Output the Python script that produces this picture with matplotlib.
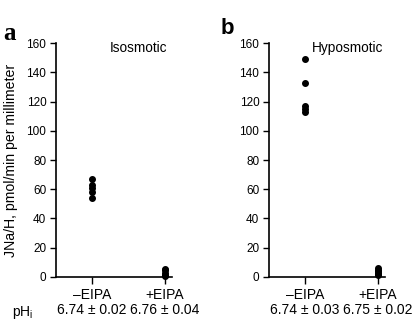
import matplotlib
matplotlib.use('Agg')
import matplotlib.pyplot as plt

plt.rcParams['font.family'] = ['Liberation Sans', 'DejaVu Sans']

# data
groups = ['\u2013EIPA', '+EIPA']
iso_minus = [67, 63, 61, 58, 54]
iso_plus = [5.5, 4.5, 3, 1.5, 0.5]
hypo_minus = [149, 133, 117, 115, 113]
hypo_plus = [6, 5, 4, 3, 2, 1]
iso_ph = ['6.74 \u00b1 0.02', '6.76 \u00b1 0.04']
hypo_ph = ['6.74 \u00b1 0.03', '6.75 \u00b1 0.02']
yticks = [0, 20, 40, 60, 80, 100, 120, 140, 160]

fig = plt.figure(figsize=(4.12, 3.32), dpi=100)
axa = fig.add_axes([0.136, 0.166, 0.282, 0.704])
axb = fig.add_axes([0.653, 0.166, 0.282, 0.704])

panels = [(axa, iso_minus, iso_plus, iso_ph, 'Isosmotic', 0.71),
          (axb, hypo_minus, hypo_plus, hypo_ph, 'Hyposmotic', 0.68)]

for ax, minus, plus, ph, title, tx in panels:
    ax.plot([0] * len(minus), minus, 'o', color='black', ms=4.0, clip_on=False)
    ax.plot([1] * len(plus), plus, 'o', color='black', ms=4.0, clip_on=False)
    ax.set_xlim(-0.49, 1.1)
    ax.set_ylim(0, 160)
    ax.set_yticks(yticks)
    ax.set_xticks([0, 1])
    ax.set_xticklabels([g + '\n' + p for g, p in zip(groups, ph)],
                       fontsize=10, linespacing=1.12)
    ax.tick_params(axis='y', direction='out', length=4, width=1,
                   labelsize=8.5, pad=3)
    ax.tick_params(axis='x', direction='out', length=5, width=1, pad=3)
    for s in ['top', 'right']:
        ax.spines[s].set_visible(False)
    for s in ['left', 'bottom']:
        ax.spines[s].set_linewidth(1.2)
    ax.text(tx, 0.98, title, transform=ax.transAxes, ha='center',
            va='center', fontsize=9.8)

axa.set_ylabel('JNa/H, pmol/min per millimeter', fontsize=10.2, labelpad=6)

fig.text(0.008, 0.9, 'a', fontsize=18, fontweight='bold',
         family='Liberation Serif', va='center', ha='left')
fig.text(0.536, 0.915, 'b', fontsize=16, fontweight='bold',
         va='center', ha='left')
fig.text(0.03, 0.058, 'pH$_\\mathregular{i}$', fontsize=10, va='center')

fig.savefig('out.png', dpi=100)
